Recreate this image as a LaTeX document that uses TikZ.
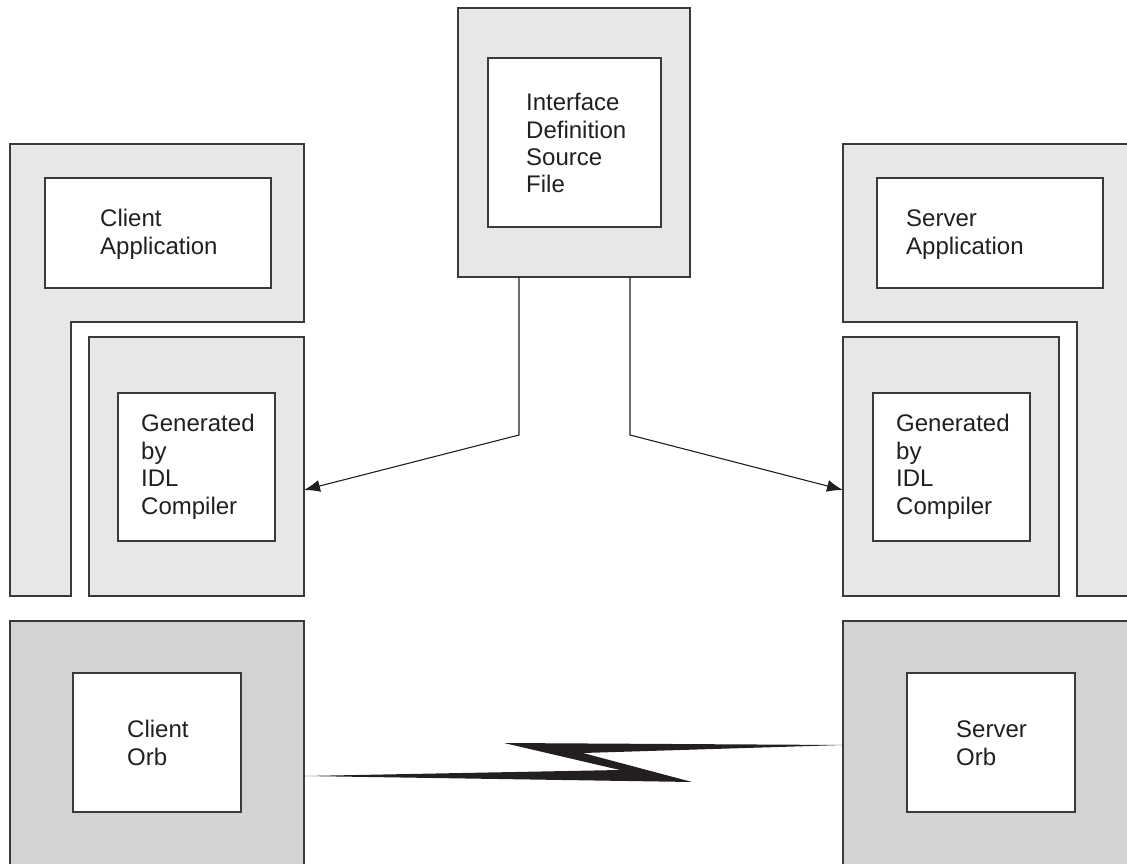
\documentclass[tikz,border=0pt]{standalone}
\usepackage{fontspec}
\setmainfont{Liberation Sans}
\usetikzlibrary{arrows.meta}
\definecolor{lightfill}{HTML}{E6E7E8}
\definecolor{orbfill}{HTML}{D1D3D4}
\definecolor{edge}{HTML}{3A3A3A}
\definecolor{ink}{HTML}{231F20}
\begin{document}
\begin{tikzpicture}[x=1pt,y=-1pt,
  outer/.style={draw=edge, line width=1.1pt, fill=lightfill},
  orb/.style={draw=edge, line width=1.1pt, fill=orbfill},
  box/.style={inner sep=0pt, outer sep=0pt, anchor=north west},
  inner/.style={draw=edge, line width=1.1pt, fill=white},
  lbl/.style={anchor=base west, inner sep=0pt, align=left, text=ink, font=\fontsize{24}{27.4}\selectfont},
  conn/.style={draw=ink, line width=1.1pt},
  arr/.style={conn, -{Latex[length=16pt,width=12pt]}}]
\useasboundingbox (0,0) rectangle (1127,864);
\clip (0,0) rectangle (1127,864);

% top IDL source box
\node[box, outer, minimum width=232pt, minimum height=269pt] (idl) at (458,8) {};
\node[box, inner, minimum width=173pt, minimum height=169pt] (idlin) at (488,58) {};
\node[lbl] (tidl) at (526,193) {Interface\\Definition\\Source\\File};

% client side
\path[outer] (10,144) -- (304,144) -- (304,322) -- (71,322) -- (71,596) -- (10,596) -- cycle;
\node[box, inner, minimum width=226pt, minimum height=110pt] (capp) at (45,178) {};
\node[lbl] (tcapp) at (100,254) {Client\\Application};
\node[box, outer, minimum width=215pt, minimum height=259pt] (cgen) at (89,337) {};
\node[box, inner, minimum width=157pt, minimum height=148pt] (cgenin) at (118,393) {};
\node[lbl] (tcgen) at (141,514) {Generated\\by\\IDL\\Compiler};

% server side
\path[outer] (1140,144) -- (843,144) -- (843,322) -- (1077,322) -- (1077,596) -- (1140,596) -- cycle;
\node[box, inner, minimum width=226pt, minimum height=110pt] (sapp) at (877,178) {};
\node[lbl] (tsapp) at (906,254) {Server\\Application};
\node[box, outer, minimum width=216pt, minimum height=259pt] (sgen) at (843,337) {};
\node[box, inner, minimum width=157pt, minimum height=148pt] (sgenin) at (873,393) {};
\node[lbl] (tsgen) at (896,514) {Generated\\by\\IDL\\Compiler};

% orbs
\node[box, orb, minimum width=294pt, minimum height=270pt] (corb) at (10,621) {};
\node[box, inner, minimum width=168pt, minimum height=139pt] (corbin) at (73,673) {};
\node[lbl] (tcorb) at (127,765) {Client\\Orb};
\node[box, orb, minimum width=300pt, minimum height=270pt] (sorb) at (843,621) {};
\node[box, inner, minimum width=168pt, minimum height=139pt] (sorbin) at (907,673) {};
\node[lbl] (tsorb) at (956,765) {Server\\Orb};

% connectors
\coordinate (lb) at (519,435);
\coordinate (rb) at (630,435);
\coordinate (tipy) at (0,490);
\draw[arr] (idl.south -| lb) -- (lb) -- (cgen.east |- tipy);
\draw[arr] (idl.south -| rb) -- (rb) -- (sgen.west |- tipy);

% lightning bolt
\fill[ink] (corb.east |- 0,776) -- (620,770) -- (504,743) -- (sorb.west |- 0,745) -- (583,753) -- (692,782) -- cycle;
\end{tikzpicture}
\end{document}
